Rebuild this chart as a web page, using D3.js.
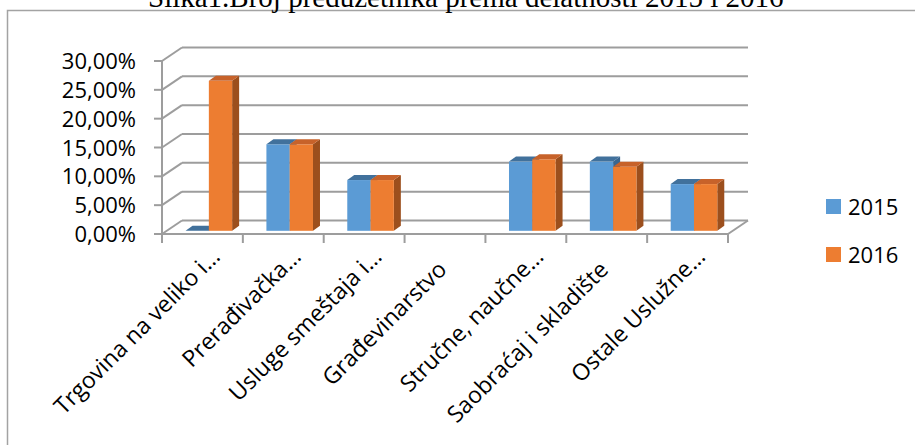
<!DOCTYPE html>
<html><head><meta charset="utf-8">
<script src="https://cdn.jsdelivr.net/npm/d3@7"></script>
<style>html,body{margin:0;padding:0;background:#fff;overflow:hidden} svg{display:block}</style>
</head><body>
<script>
// ---- data ----
const categories = ["Trgovina na veliko i…","Prerađivačka…","Usluge smeštaja i…","Građevinarstvo","Stručne, naučne…","Saobraćaj i skladište","Ostale Uslužne…"];
const series = ["2015","2016"];
const values2015 = [0, 0.150, 0.088, null, 0.120, 0.120, 0.081];
const values2016 = [0.260, 0.150, 0.088, null, 0.124, 0.111, 0.081];
const yTicks = [0, 0.05, 0.10, 0.15, 0.20, 0.25, 0.30];
const titleText = "Slika1.Broj preduzetnika prema delatnosti 2015 i 2016";

// ---- styles / layout ----
const W = 915, H = 445;
const colors = {"2015": {front:"#5B9BD5", top:"#41719C", side:"#3A6690"},
                "2016": {front:"#ED7D31", top:"#C7622A", side:"#9C4F1D"}};
const gridColor = "#9d9d9d";
const font = "'Open Sans', 'Noto Sans', sans-serif";
const depth = {dx: 20, dy: -13.5};     // floor depth
const barOff = {dx: 4.8, dy: -3.2};    // bar front plane offset
const barDepth = {dx: 7, dy: -5};      // bar thickness in depth

const svg = d3.select("body").append("svg").attr("width", W).attr("height", H);

// outer chart border
svg.append("rect").attr("x", 7.5).attr("y", 10.5).attr("width", 1000).attr("height", 600)
  .attr("fill", "none").attr("stroke", "#a3a3a3").attr("stroke-width", 1.5);

// title (its upper part lies above the page edge, as in the reference)
svg.append("text").attr("x", 148).attr("y", 7)
  .attr("font-family", "'Liberation Serif', 'Times New Roman', serif")
  .attr("font-size", 29).attr("fill", "#000").text(titleText);

const x = d3.scaleBand().domain(categories).range([162, 728]).padding(0);
const bw = x.bandwidth();
const x1 = d3.scaleBand().domain(series).range([bw * 0.232, bw * 0.808]).padding(0);
const y = d3.scaleLinear().domain([0, 0.30]).range([234, 61]);

const loc = d3.formatLocale({decimal: ",", thousands: ".", grouping: [3], currency: ["", ""]});
const fmt = loc.format(".2%");

const g = svg.append("g");
const x0 = x.range()[0], xEnd = x.range()[1];

// back wall gridlines
g.selectAll(".grid").data(yTicks).join("line")
  .attr("x1", x0 + depth.dx).attr("x2", xEnd + depth.dx)
  .attr("y1", d => y(d) + depth.dy).attr("y2", d => y(d) + depth.dy)
  .attr("stroke", gridColor).attr("stroke-width", 2);
// left wall diagonals
g.selectAll(".diag").data(yTicks).join("line")
  .attr("x1", x0).attr("x2", x0 + depth.dx)
  .attr("y1", d => y(d)).attr("y2", d => y(d) + depth.dy)
  .attr("stroke", gridColor).attr("stroke-width", 2);
// floor front & right edge
g.append("line").attr("x1", x0).attr("x2", xEnd).attr("y1", y(0)).attr("y2", y(0))
  .attr("stroke", gridColor).attr("stroke-width", 2);
g.append("line").attr("x1", xEnd).attr("x2", xEnd + depth.dx).attr("y1", y(0)).attr("y2", y(0) + depth.dy)
  .attr("stroke", gridColor).attr("stroke-width", 2);
// y axis line and ticks
g.append("line").attr("x1", x0).attr("x2", x0).attr("y1", y(0)).attr("y2", y(0.30))
  .attr("stroke", gridColor).attr("stroke-width", 2);
g.selectAll(".ytick").data(yTicks).join("line")
  .attr("x1", x0 - 8).attr("x2", x0).attr("y1", d => y(d)).attr("y2", d => y(d))
  .attr("stroke", gridColor).attr("stroke-width", 2);
g.selectAll(".ylab").data(yTicks).join("text")
  .attr("x", 136).attr("y", d => y(d) + 8)
  .attr("text-anchor", "end").attr("font-family", font).attr("font-size", 22).attr("fill", "#000")
  .text(d => fmt(d));
// category ticks
const edges = categories.map(c => x(c)).concat([xEnd]);
g.selectAll(".xtick").data(edges).join("line")
  .attr("x1", d => d).attr("x2", d => d).attr("y1", y(0)).attr("y2", y(0) + 9)
  .attr("stroke", gridColor).attr("stroke-width", 2);

// bars (left to right)
const bars = [];
categories.forEach((c, i) => {
  [["2015", values2015[i]], ["2016", values2016[i]]].forEach(([s, v]) => {
    if (v === null || v === undefined) return;
    bars.push({c, s, v});
  });
});
const bg = svg.append("g");
bars.forEach(b => {
  const lx = x(b.c) + x1(b.s) + barOff.dx;
  const rx = lx + x1.bandwidth();
  const by = y(0) + barOff.dy;
  const ty = y(b.v) + barOff.dy;
  const col = colors[b.s];
  bg.append("path").attr("fill", col.side)
    .attr("d", `M${rx},${by}L${rx + barDepth.dx},${by + barDepth.dy}L${rx + barDepth.dx},${ty + barDepth.dy}L${rx},${ty}Z`);
  if (by - ty > 0.01)
    bg.append("rect").attr("x", lx).attr("y", ty).attr("width", rx - lx).attr("height", by - ty).attr("fill", col.front);
  bg.append("path").attr("fill", col.top)
    .attr("d", `M${lx},${ty}L${rx},${ty}L${rx + barDepth.dx},${ty + barDepth.dy}L${lx + barDepth.dx},${ty + barDepth.dy}Z`);
});

// category labels
svg.append("g").selectAll("text").data(categories).join("text")
  .attr("transform", d => {
    const trunc = d.endsWith("…");
    const cx = x(d) + bw / 2 + (trunc ? 19 : 3);
    const cy = trunc ? 258 : 271;
    return `translate(${cx},${cy}) rotate(-45)`;
  })
  .attr("text-anchor", "end").attr("font-family", font).attr("font-size", 23).attr("fill", "#000")
  .text(d => d);

// legend
const lg = svg.append("g");
series.forEach((s, i) => {
  const ly = 199 + i * 48;
  lg.append("rect").attr("x", 826).attr("y", ly).attr("width", 15).attr("height", 15).attr("fill", colors[s].front);
  lg.append("text").attr("x", 848).attr("y", ly + 15.5).attr("font-family", font).attr("font-size", 22).attr("fill", "#000").text(s);
});
</script>
</body></html>
